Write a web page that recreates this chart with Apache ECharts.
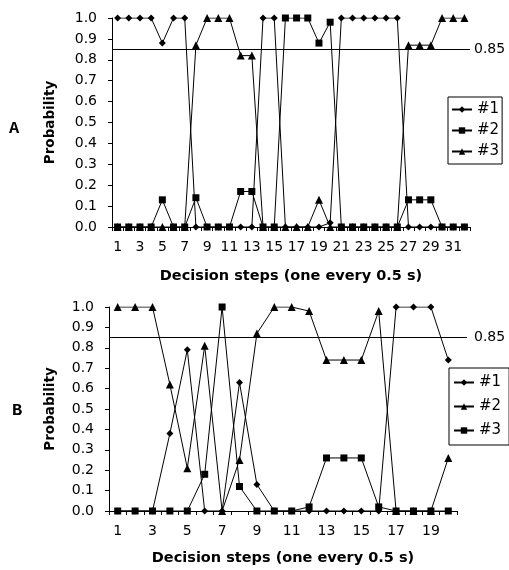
<!DOCTYPE html>
<html><head><meta charset="utf-8">
<script src="https://cdn.jsdelivr.net/npm/echarts@6/dist/echarts.min.js"></script>
<style>html,body{margin:0;padding:0;background:#fff}#c{width:509px;height:570px}</style>
</head><body><div id="c"></div>
<script>
const stepsA = Array.from({length:32},(_,i)=>String(i+1));
const stepsB = Array.from({length:20},(_,i)=>String(i+1));
const threshold = 0.85;
const a1 = [1,1,1,1,0.88,1,1,0,0,0,0,0,0,1,1,0,0,0,0,0.02,1,1,1,1,1,1,0,0,0,0,0,0];
const a2 = [0,0,0,0,0.13,0,0,0.14,0,0,0,0.17,0.17,0,0,1,1,1,0.88,0.98,0,0,0,0,0,0,0.13,0.13,0.13,0,0,0];
const a3 = [0,0,0,0,0,0,0,0.87,1,1,1,0.82,0.82,0,0,0,0,0,0.13,0,0,0,0,0,0,0,0.87,0.87,0.87,1,1,1];
const b1 = [0,0,0,0.38,0.79,0,0,0.63,0.13,0,0,0,0,0,0,0,1,1,1,0.74];
const b2 = [1,1,1,0.62,0.21,0.81,0,0.25,0.87,1,1,0.98,0.74,0.74,0.74,0.98,0,0,0,0.26];
const b3 = [0,0,0,0,0,0.18,1,0.12,0,0,0,0.02,0.26,0.26,0.26,0.02,0,0,0,0];

const F = '"DejaVu Sans", Arial, sans-serif';
const grids = [
  {left:112, top:18, width:358, height:209},
  {left:109, top:307, width:348, height:204}
];
const lineEnds = [470, 467];
const chart = echarts.init(document.getElementById('c'));
function xAx(idx, data, gap){
  return {type:'category', gridIndex:idx, data:data, boundaryGap:true,
    axisLine:{lineStyle:{color:'#000',width:1}},
    axisTick:{show:true, interval:0, length:4, lineStyle:{color:'#000'}},
    axisLabel:{interval:1, color:'#000', fontFamily:F, fontSize:14, margin:13},
    name:'Decision steps (one every 0.5 s)', nameLocation:'middle', nameGap:gap,
    nameTextStyle:{fontFamily:F, fontWeight:'bold', fontSize:14.5, color:'#000'}};
}
function yAx(idx, gap){
  return {type:'value', gridIndex:idx, min:0, max:1, interval:0.1,
    axisLine:{show:true, lineStyle:{color:'#000'}},
    axisTick:{show:true, length:4, lineStyle:{color:'#000'}},
    splitLine:{show:false},
    axisLabel:{color:'#000', fontFamily:F, fontSize:14, margin:15, formatter:v=>v.toFixed(1)},
    name:'Probability', nameLocation:'middle', nameGap:gap, nameRotate:90,
    nameTextStyle:{fontFamily:F, fontWeight:'bold', fontSize:13.5, color:'#000'}};
}
function ser(name, data, sym, size, idx){
  return {type:'line', name:name, data:data, xAxisIndex:idx, yAxisIndex:idx,
    symbol:sym, symbolSize:size, showAllSymbol:true,
    lineStyle:{color:'#000', width:1}, itemStyle:{color:'#000'}, animation:false};
}
function leg(names, left, top, gap, pad){
  return {data:names, formatter:n=>n.slice(0,2), orient:'vertical', left:left, top:top,
     itemWidth:20, itemHeight:8, itemGap:gap, padding:pad, borderColor:'#000', borderWidth:1,
     textStyle:{fontFamily:F, fontSize:15, color:'#000'}};
}
chart.setOption({
  animation:false,
  title:[
    {text:'A', left:9, top:120, padding:0, textStyle:{fontFamily:'"Liberation Mono", "Courier New", monospace', fontWeight:'bold', fontSize:17, color:'#000'}},
    {text:'B', left:12, top:402, padding:0, textStyle:{fontFamily:'"Liberation Mono", "Courier New", monospace', fontWeight:'bold', fontSize:17, color:'#000'}}
  ],
  grid:grids,
  xAxis:[xAx(0, stepsA, 42), xAx(1, stepsB, 40)],
  yAxis:[yAx(0, 55), yAx(1, 52)],
  legend:[
    leg(['#1A','#2A','#3A'], 448, 97, 6, [5,3,5,3]),
    leg(['#1B','#2B','#3B'], 449, 368, 9, [7,8,7,4])
  ],
  series:[
    ser('#1A', a1, 'diamond', 7, 0),
    ser('#2A', a2, 'rect', 7, 0),
    ser('#3A', a3, 'triangle', 8, 0),
    ser('#1B', b1, 'diamond', 7, 1),
    ser('#2B', b2, 'triangle', 8, 1),
    ser('#3B', b3, 'rect', 7, 1)
  ]
});
// threshold reference line, positioned through each panel's y scale
const ml = [0,1].map(i=>{
  const py = chart.convertToPixel({gridIndex:i}, [0, threshold])[1];
  return {silent:true, symbol:'none', animation:false,
    lineStyle:{color:'#000', width:1, type:'solid'},
    label:{position:'end', formatter:String(threshold), color:'#000', fontFamily:F, fontSize:14, distance:i===0?4:7},
    data:[[{x:grids[i].left, y:py},{x:lineEnds[i], y:py}]]};
});
chart.setOption({series:[{markLine:ml[0]},{},{},{markLine:ml[1]},{},{}]});
</script></body></html>
